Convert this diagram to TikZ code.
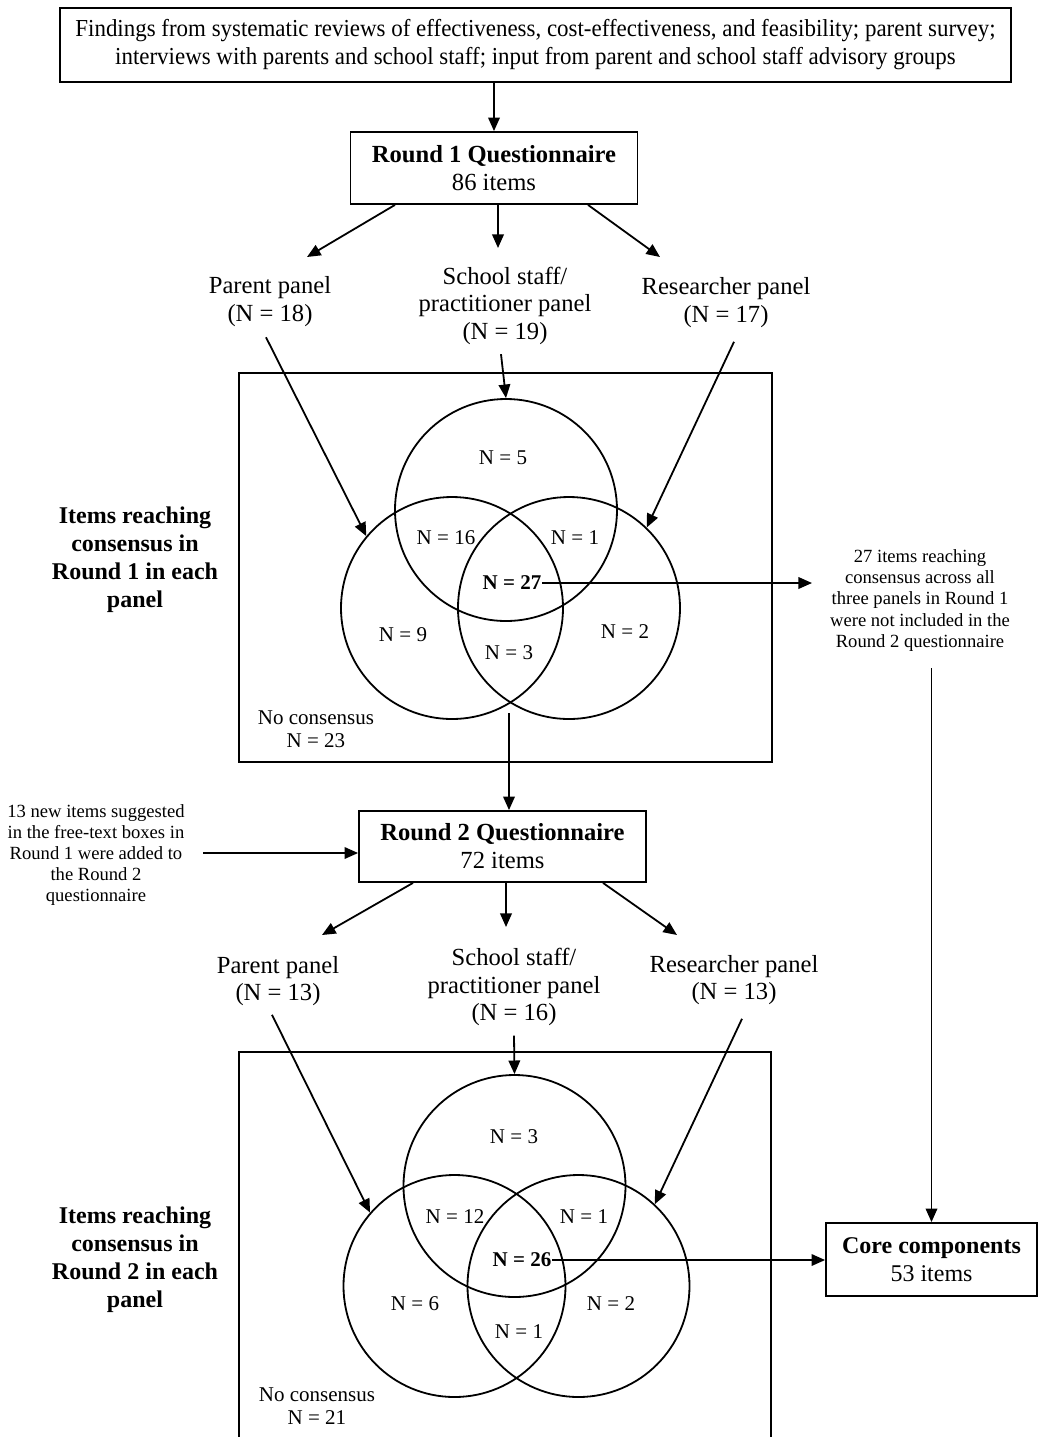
\documentclass[tikz,border=0pt]{standalone}
\usepackage{fontspec}
\setmainfont{Liberation Serif}
\newfontfamily\condfont{Liberation Serif}[FakeStretch=0.94]
\usetikzlibrary{arrows.meta,calc}
\begin{document}
\begin{tikzpicture}[x=0.5pt,y=-0.5pt,
  line width=0.9pt,
  arr/.style={-{Triangle[length=6.8pt,width=5.8pt]}},
  boxn/.style={draw,inner sep=0pt,align=center},
  txt/.style={inner sep=0pt,align=center,font=\fontsize{12.3}{13.75}\selectfont},
  venn/.style={inner sep=0pt,align=center,font=\fontsize{10.5}{11.5}\selectfont},
  small/.style={inner sep=0pt,align=center,font=\fontsize{9.3}{10.6}\selectfont},
  side/.style={inner sep=0pt,align=center,font=\fontsize{12}{14}\selectfont\bfseries},
  ring/.style={draw,circle,minimum size=111pt,inner sep=0pt}
]
\useasboundingbox (0,0) rectangle (1039,1437);

% ---------- top ----------
\node[boxn,minimum width=475.5pt,minimum height=37pt,font=\fontsize{12.2}{14}\condfont] (src) at (535.5,45)
  {Findings from systematic reviews of effectiveness, cost-effectiveness, and feasibility; parent survey;\\interviews with parents and school staff; input from parent and school staff advisory groups};
\node[boxn,minimum width=143.5pt,minimum height=36pt,font=\fontsize{12.3}{14}\selectfont] (r1) at (494,168)
  {\textbf{Round 1 Questionnaire}\\86 items};
\draw[arr] (src.south -| r1.north) -- (r1.north);

% ---------- round 1 panels ----------
\node[txt] (p1) at (270,301.5) {Parent panel\\(N = 18)};
\node[txt] (s1) at (505,305.5) {School staff/\\practitioner panel\\(N = 19)};
\node[txt] (q1) at (726,302.5) {Researcher panel\\(N = 17)};
\coordinate (tp1) at (307,257);
\coordinate (ts1) at (498,248);
\coordinate (tq1) at (660,257);
\draw[arr] ($(r1.south)+(-99,0)$) -- (tp1);
\draw[arr] ($(r1.south)+(4,0)$) -- (ts1);
\draw[arr] ($(r1.south)+(94,0)$) -- (tq1);

% ---------- round 1 venn ----------
\node[draw,inner sep=0pt,minimum width=266.5pt,minimum height=194.5pt] (vb1) at (505.5,567.5) {};
\node[ring] (T1) at (506,510) {};
\node[ring] (L1) at (452,608) {};
\node[ring] (R1) at (569,608) {};
\draw[arr] ($(p1.south)+(-4,10)$) -- (L1.140.8);
\draw[arr] ($(s1.south)+(-4,9)$) -- (T1.north);
\draw[arr] ($(q1.south)+(8,13.5)$) -- (R1.46.4);
\node[venn] (v1a) at (503,458) {N = 5};
\node[venn] (v1b) at (446,538) {N = 16};
\node[venn] (v1c) at (575,538) {N = 1};
\node[venn,font=\fontsize{10.5}{11.5}\selectfont\bfseries] (n27) at (512,583) {N = 27};
\node[venn] (v1d) at (403,635) {N = 9};
\node[venn] (v1e) at (509,653) {N = 3};
\node[venn] (v1f) at (625,632) {N = 2};
\node[venn] (nc1) at (316,729.5) {No consensus\\N = 23};
\node[side] (lab1) at (135,559.5) {Items reaching\\consensus in\\Round 1 in each\\panel};

\node[small] (t27) at (920,600.5) {27 items reaching\\consensus across all\\three panels in Round 1\\were not included in the\\Round 2 questionnaire};
\coordinate (c27) at (812,583);
\draw[arr] (n27.east) -- (c27 |- n27.east);

% ---------- round 2 ----------
\node[boxn,minimum width=143.5pt,minimum height=35.5pt,font=\fontsize{12.3}{14}\selectfont] (r2) at (502.5,846.5)
  {\textbf{Round 2 Questionnaire}\\72 items};
\coordinate (v1out) at (509,713);
\draw[arr] (v1out) -- (v1out |- r2.north);
\node[small] (new) at (96,855) {13 new items suggested\\in the free-text boxes in\\Round 1 were added to\\the Round 2\\questionnaire};
\coordinate (nw) at (203,853);
\draw[arr] (nw) -- (nw -| r2.west);

\node[txt] (p2) at (278,981) {Parent panel\\(N = 13)};
\node[txt] (s2) at (514,987) {School staff/\\practitioner panel\\(N = 16)};
\node[txt] (q2) at (734,980) {Researcher panel\\(N = 13)};
\coordinate (tp2) at (322,935);
\coordinate (ts2) at (506,927);
\coordinate (tq2) at (677,935);
\draw[arr] ($(r2.south)+(-89.5,0)$) -- (tp2);
\draw[arr] ($(r2.south)+(3.5,0)$) -- (ts2);
\draw[arr] ($(r2.south)+(100.5,0)$) -- (tq2);

% ---------- round 2 venn ----------
\draw (239,1437) -- (239,1052) -- (771,1052) -- (771,1437);
\node[ring] (T2) at (514.5,1186) {};
\node[ring] (L2) at (454.5,1286) {};
\node[ring] (R2) at (578.5,1286) {};
\draw[arr] ($(p2.south)+(-6,8)$) -- (L2.139.5);
\draw[arr] ($(s2.south)+(0,9)$) -- (T2.north);
\draw[arr] ($(q2.south)+(8,13)$) -- (R2.47);
\node[venn] (v2a) at (514,1137) {N = 3};
\node[venn] (v2b) at (455,1217) {N = 12};
\node[venn] (v2c) at (584,1217) {N = 1};
\node[venn,font=\fontsize{10.5}{11.5}\selectfont\bfseries] (n26) at (522,1260) {N = 26};
\node[venn] (v2d) at (415,1304) {N = 6};
\node[venn] (v2e) at (519,1332) {N = 1};
\node[venn] (v2f) at (611,1304) {N = 2};
\node[venn] (nc2) at (317,1406.5) {No consensus\\N = 21};
\node[side] (lab2) at (135,1259.5) {Items reaching\\consensus in\\Round 2 in each\\panel};

% ---------- core ----------
\node[boxn,minimum width=105.5pt,minimum height=36.5pt,font=\fontsize{12}{14}\selectfont] (core) at (931.5,1259.5)
  {\textbf{Core components}\\53 items};
\draw[arr] (n26.east) -- (n26.east -| core.west);
\draw[arr] ($(t27.south -| core.north)+(0,16)$) -- (core.north);
\end{tikzpicture}
\end{document}
